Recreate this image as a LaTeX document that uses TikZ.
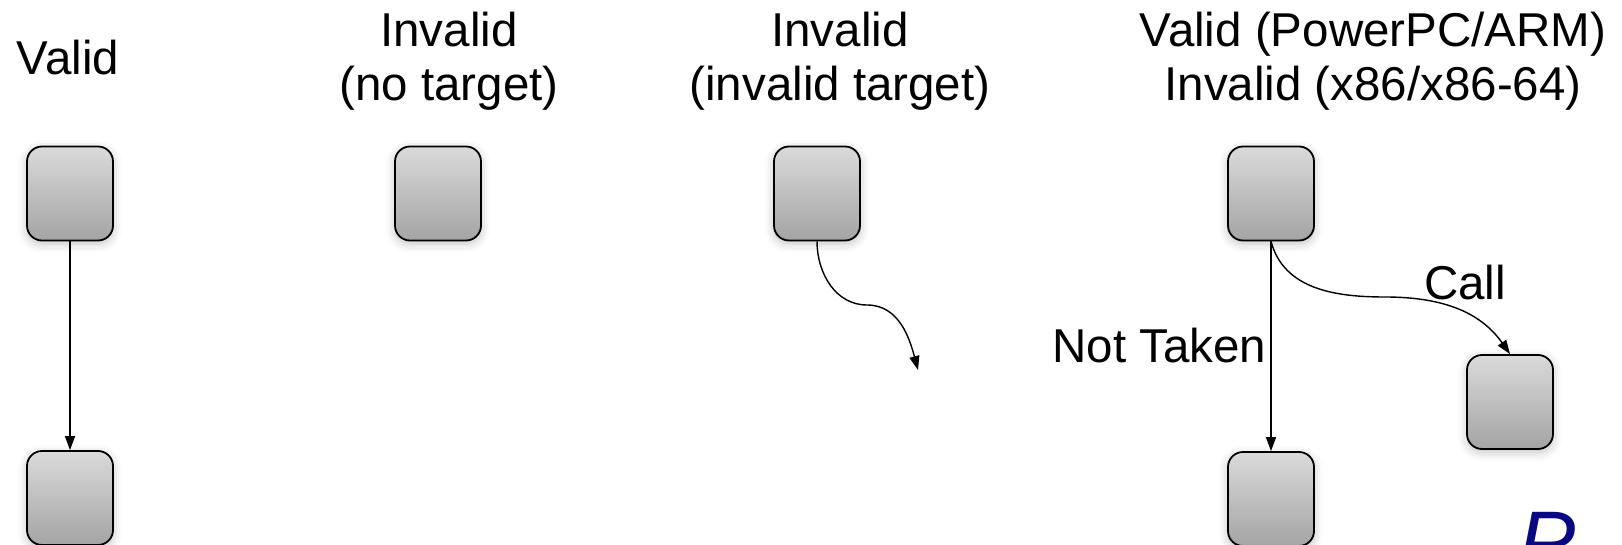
\documentclass[tikz,border=0pt]{standalone}
\usepackage{fontspec}
\setmainfont{Liberation Sans}
\usetikzlibrary{arrows.meta,shadows.blur}
\definecolor{boxtop}{RGB}{218,218,218}
\definecolor{boxbot}{RGB}{164,164,164}
\definecolor{navy}{RGB}{8,8,128}
\tikzset{
  blk/.style={draw=black, line width=1.8pt, rounded corners=15pt,
    minimum width=86pt, minimum height=94pt, inner sep=0pt,
    top color=boxtop, bottom color=boxbot,
    blur shadow={shadow xshift=0pt, shadow yshift=-3pt,
                 shadow blur radius=9pt, shadow opacity=25}},
  headtxt/.style={font=\fontsize{47.5}{54}\selectfont, align=center, inner sep=0pt},
  flow/.style={line width=1.4pt, -{Triangle[length=14pt,width=10pt]}}
}
\begin{document}
\begin{tikzpicture}[x=1pt,y=1pt]
\useasboundingbox (0,0) rectangle (1622,-545);
\clip (0,0) rectangle (1622,-545);

% column headings (base anchor = baseline of the last line)
\node[headtxt, anchor=base] (l1) at (68,-75) {Valid};
\node[headtxt, anchor=base] (l2) at (449,-101) {Invalid\\(no target)};
\node[headtxt, anchor=base] (l3) at (840,-101) {Invalid\\(invalid target)};
\node[headtxt, anchor=base] (l4) at (1373,-101) {Valid (PowerPC/ARM)\\Invalid (x86/x86-64)};

% blocks
\node[blk] (b1)  at (70,-193.5) {};
\node[blk] (b1b) at (70,-498) {};
\node[blk] (b2)  at (438,-193.5) {};
\node[blk] (b3)  at (817,-193.5) {};
\node[blk] (b4)  at (1271,-193.5) {};
\node[blk] (b4b) at (1271,-499) {};
\node[blk] (bc)  at (1510,-402) {};

% waypoints of the curved branches
\coordinate (m3) at (867,-305);
\coordinate (t3) at (918,-370);
\coordinate (mc) at (1385,-297);

% connectors
\draw[flow] (b1.south) -- (b1b.north);
\draw[flow] (b3.south) to[out=-90,in=180] (m3) to[out=0,in=105] (t3);
\draw[flow] (b4.south) -- node[headtxt, pos=0.578, anchor=base east, xshift=-4pt] (nt) {Not Taken} (b4b.north);
\draw[flow] (b4.south) to[out=-75,in=180] (mc) to[out=0,in=125] (bc.north);
\node[headtxt, anchor=base west] (lc) at (1424,-300) {Call};

% footer letter
\node[font=\fontsize{86}{86}\selectfont\itshape, text=navy, anchor=base west, inner sep=0pt] (pg) at (1518,-571) {P};
\end{tikzpicture}
\end{document}
